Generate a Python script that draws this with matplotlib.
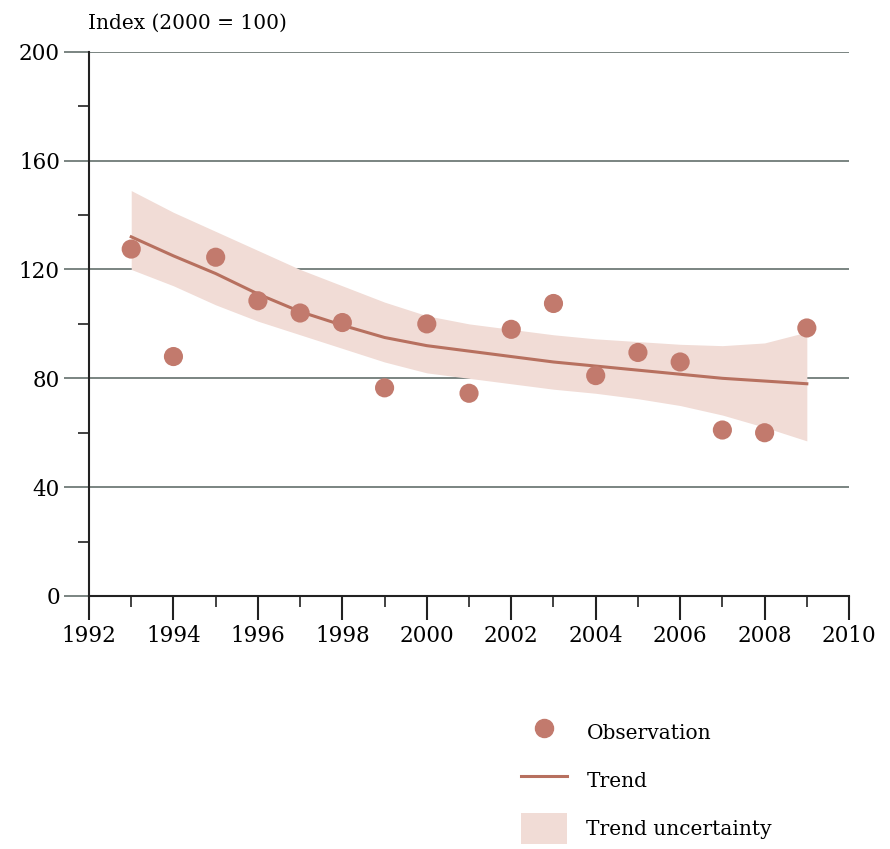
import numpy as np
import matplotlib.pyplot as plt
from matplotlib.patches import Patch
from matplotlib.lines import Line2D

# === Data ===
years = [1993, 1994, 1995, 1996, 1997, 1998, 1999, 2000, 2001,
         2002, 2003, 2004, 2005, 2006, 2007, 2008, 2009]
observation = [127.5, 88, 124.5, 108.5, 104, 100.5, 76.5, 100, 74.5,
               98, 107.5, 81, 89.5, 86, 61, 60, 98.5]
trend = [132, 125, 118.5, 111, 104.5, 99.5, 95, 92, 90,
         88, 86, 84.5, 83, 81.5, 80, 79, 78]
trend_upper = [149, 141, 134, 127, 120, 114, 108, 103, 100,
               98, 96, 94.5, 93.5, 92.5, 92, 93, 97]
trend_lower = [120, 114, 107, 101, 96, 91, 86, 82, 80,
               78, 76, 74.5, 72.5, 70, 66.5, 62, 57]

dot_color = '#c27a6d'
line_color = '#b7705f'
band_color = '#f1dcd6'
grid_color = '#6f7b77'

plt.rcParams['font.family'] = ['DejaVu Serif']

fig = plt.figure(figsize=(8.9, 8.49), dpi=100)
ax = fig.add_axes([0.1, 0.298, 0.854, 0.641])

# === Band, trend and points ===
ax.fill_between(years, trend_lower, trend_upper, color=band_color, lw=0, zorder=2)
ax.plot(years, trend, color=line_color, lw=2.2, zorder=3)
ax.scatter(years, observation, s=190, color=dot_color, edgecolors='none', zorder=4)

# === Axes ===
ax.set_xlim(1992, 2010)
ax.set_ylim(0, 200)
ax.set_xticks(range(1992, 2011, 2))
ax.set_xticks(range(1993, 2010, 2), minor=True)
ax.set_yticks(range(0, 201, 40))
ax.set_yticks(range(20, 200, 40), minor=True)

for y in range(40, 201, 40):
    ax.axhline(y, color=grid_color, lw=1.3, zorder=1)

for side in ['top', 'right']:
    ax.spines[side].set_visible(False)
for side in ['left', 'bottom']:
    ax.spines[side].set_color('#222222')
    ax.spines[side].set_linewidth(1.5)

ax.tick_params(axis='y', which='major', length=18, width=1.3, color=grid_color,
               labelsize=15.5, pad=3)
ax.tick_params(axis='y', which='minor', length=8, width=1.3, color='#333333')
ax.tick_params(axis='x', which='major', length=17, width=1.5, color='#222222',
               labelsize=15.5, pad=4)
ax.tick_params(axis='x', which='minor', length=8, width=1.3, color='#333333')

fig.text(0.099, 0.972, 'Index (2000 = 100)', fontsize=14.5, ha='left', va='center')

# === Legend ===
handles = [
    Line2D([], [], marker='o', ls='none', color=dot_color, markersize=13),
    Line2D([], [], color=line_color, lw=2.2),
    Patch(facecolor=band_color, edgecolor='none'),
]
labels = ['Observation', 'Trend', 'Trend uncertainty']
fig.legend(handles, labels, loc='upper left', bbox_to_anchor=(0.565, 0.177),
           frameon=False, fontsize=14.5, handlelength=2.3, handleheight=2.0,
           labelspacing=0.85, handletextpad=0.95)

plt.savefig('out.png', dpi=100)
plt.close()
